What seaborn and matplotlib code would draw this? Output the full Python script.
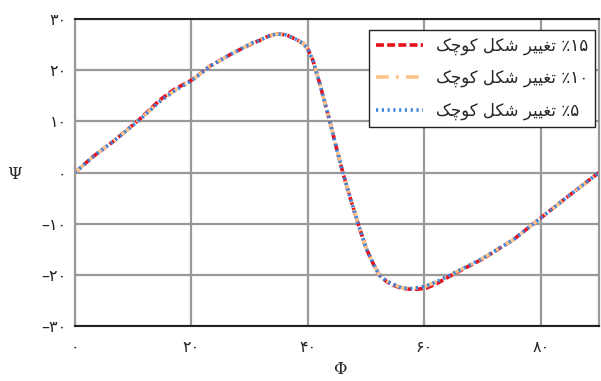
import matplotlib
matplotlib.use("Agg")
import matplotlib.pyplot as plt
import seaborn as sns
import pandas as pd

# ---------------- data ----------------
phi = [0, 3.1, 6.6, 11.1, 14.6, 17.0, 20.1, 23.2, 27.2, 30.6, 31.7, 32.9, 34.6,
       36.3, 38.0, 39.2, 40.0, 40.9, 42.0, 43.7, 44.9, 46.0, 47.2, 48.6, 50.0,
       51.2, 52.3, 53.5, 54.6, 56.0, 57.5, 58.9, 60.3, 62.0, 64.3, 70.0, 75.2,
       80.2, 84.3, 90.0]

psi_5 = [0, 3.1, 6.1, 10.3, 13.9, 15.9, 18.0, 20.8, 23.4, 25.4, 25.8, 26.5, 27.1,
         26.9, 26.0, 25.2, 24.1, 21.8, 17.5, 10.3, 4.8, 0.0, -4.7, -9.9, -14.8,
         -17.8, -20.1, -21.2, -21.8, -22.5, -22.7, -22.5, -22.2, -21.4, -20.1,
         -16.8, -13.2, -8.7, -5.0, 0.0]

psi_10 = [0, 3.1, 6.1, 10.3, 13.9, 15.9, 18.0, 20.8, 23.4, 25.4, 25.8, 26.5, 27.1,
          26.9, 26.0, 25.2, 24.1, 21.8, 17.5, 10.3, 4.8, 0.0, -4.7, -9.9, -14.8,
          -17.8, -20.1, -21.2, -21.8, -22.5, -22.7, -22.5, -22.2, -21.4, -20.1,
          -16.8, -13.2, -8.7, -5.0, 0.0]

psi_15 = [0, 3.1, 6.1, 10.4, 14.2, 16.2, 18.1, 20.8, 23.4, 25.3, 25.8, 26.5, 27.1,
          26.9, 26.0, 25.2, 24.1, 21.8, 17.5, 10.3, 4.8, 0.0, -4.7, -9.9, -14.8,
          -17.8, -20.1, -21.3, -22.0, -22.6, -22.8, -22.8, -22.6, -21.8, -20.3,
          -16.9, -13.2, -8.7, -5.0, 0.0]

# labels (Arabic presentation forms in visual order, since matplotlib has no shaping)
_word_kuchak = "\uFB8F\uFB7C\uFEEE\uFB90"
_word_shekl = "\uFEDE\uFB91\uFEB7"
_word_taghyir = "\uFEAE\uFBFF\uFBFF\uFED0\uFE97"
_base = _word_kuchak + " " + _word_shekl + " " + _word_taghyir + " \u066A"
series_labels = [_base + "\u06F1\u06F5", _base + "\u06F1\u06F0", _base + "\u06F5"]

xticks = [0, 20, 40, 60, 80]
xtick_labels = ["\u06F0", "\u06F2\u06F0", "\u06F4\u06F0", "\u06F6\u06F0", "\u06F8\u06F0"]
yticks = [30, 20, 10, 0, -10, -20, -30]
ytick_labels = ["\u06F3\u06F0", "\u06F2\u06F0", "\u06F1\u06F0", "\u06F0",
                "\u2013\u06F1\u06F0", "\u2013\u06F2\u06F0", "\u2013\u06F3\u06F0"]

# ---------------- build table ----------------
frames = []
for lab, vals in zip(series_labels, [psi_15, psi_10, psi_5]):
    frames.append(pd.DataFrame({"phi": phi, "psi": vals, "series": lab}))
df = pd.concat(frames, ignore_index=True)

# ---------------- plot ----------------
sns.set_theme(style="white")
plt.rcParams["font.family"] = ["DejaVu Sans"]

fig = plt.figure(figsize=(6.01, 3.81), dpi=100)
ax = fig.add_axes([75 / 601, 1 - 326 / 381, (599 - 75) / 601, (326 - 19) / 381])

palette = {series_labels[0]: "#e8101a", series_labels[1]: "#ffc38a", series_labels[2]: "#3a86e0"}
dashes = {series_labels[0]: (2.2, 0.9), series_labels[1]: (3.5, 2.0, 0.8, 2.0), series_labels[2]: (0.6, 1.0)}

sns.lineplot(data=df, x="phi", y="psi", hue="series", style="series",
             palette=palette, dashes=dashes, linewidth=2.6, ax=ax,
             hue_order=series_labels, style_order=series_labels,
             legend=True, sort=False)

ax.set_xlim(0, 90)
ax.set_ylim(-30, 30)
ax.set_xticks(xticks)
ax.set_xticklabels(xtick_labels, fontsize=11.5)
ax.set_yticks(yticks)
ax.set_yticklabels(ytick_labels, fontsize=11.5)
ax.tick_params(axis="x", length=0, pad=10)
ax.tick_params(axis="y", length=0, pad=6)

ax.grid(True, color="#999999", linewidth=1.6)
ax.set_axisbelow(True)
for side in ["left", "right"]:
    ax.spines[side].set_color("#999999")
    ax.spines[side].set_linewidth(1.6)
for side in ["top", "bottom"]:
    ax.spines[side].set_color("#222222")
    ax.spines[side].set_linewidth(1.5)
    ax.spines[side].set_visible(True)

ax.set_xlabel("\u03A6", fontsize=12, family=["DejaVu Serif"])
ax.set_ylabel("\u03A8", fontsize=12, family=["DejaVu Serif"], rotation=0)
ax.xaxis.set_label_coords(0.506, -0.115)
ax.yaxis.set_label_coords(-0.115, 0.466)

leg = ax.legend(loc="upper right", bbox_to_anchor=(595 / 601, 1 - 30 / 381),
                bbox_transform=fig.transFigure, borderaxespad=0, fontsize=12,
                handlelength=2.8, labelspacing=0.85, fancybox=False,
                frameon=True, edgecolor="#222222", framealpha=1)
leg.get_frame().set_linewidth(1.0)
for line in leg.get_lines():
    line.set_linewidth(2.6)

fig.savefig("out.png", dpi=100)
